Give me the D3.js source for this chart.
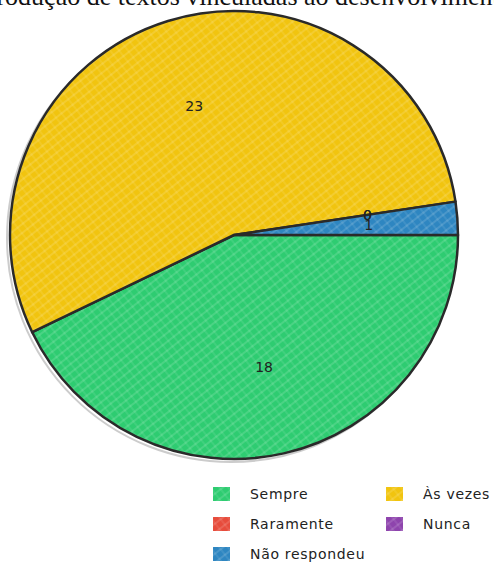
<!DOCTYPE html>
<html><head><meta charset="utf-8">
<script src="https://cdn.jsdelivr.net/npm/d3@7"></script>
<style>html,body{margin:0;padding:0;background:#fff;overflow:hidden}</style>
</head><body>
<svg id="c" width="494" height="563"></svg>
<script>
const title = "Produção de textos vinculadas ao desenvolvimento";
const categories = ["Sempre", "Às vezes", "Raramente", "Nunca", "Não respondeu"];
const values = [18, 23, 0, 0, 1];
const colors = ["#2ecc71", "#f1c40f", "#e74c3c", "#8e44ad", "#2e86c1"];

const svg = d3.select("#c");
const defs = svg.append("defs");
colors.forEach((c, i) => {
  const p = defs.append("pattern").attr("id", "h" + i).attr("patternUnits", "userSpaceOnUse")
    .attr("width", 7).attr("height", 7).attr("patternTransform", "rotate(-38)");
  p.append("rect").attr("width", 7).attr("height", 7).attr("fill", c);
  p.append("line").attr("x1", 0).attr("y1", 1).attr("x2", 7).attr("y2", 1)
    .attr("stroke", "#fff").attr("stroke-opacity", 0.22).attr("stroke-width", 1.2);
  p.append("line").attr("x1", 2).attr("y1", 0).attr("x2", 2).attr("y2", 7)
    .attr("stroke", "#fff").attr("stroke-opacity", 0.16).attr("stroke-width", 1);
});

svg.append("text").attr("x", -18).attr("y", 5)
  .attr("font-family", "Liberation Serif, serif").attr("font-size", 26).attr("fill", "#111")
  .text(title);

const cx = 234, cy = 235, R = 224;
const data = categories.map((c, i) => ({ name: c, value: values[i], color: colors[i], idx: i }));
const pie = d3.pie().sort(null).value(d => d.value).startAngle(Math.PI / 2).endAngle(Math.PI / 2 + 2 * Math.PI);
const arcs = pie(data);
const arc = d3.arc().innerRadius(0).outerRadius(R);
const labelArc = d3.arc().innerRadius(135).outerRadius(135);
const g = svg.append("g").attr("transform", `translate(${cx},${cy})`);

g.append("circle").attr("cx", -3).attr("cy", 3).attr("r", R).attr("fill", "none")
  .attr("stroke", "#999").attr("stroke-opacity", 0.5).attr("stroke-width", 2);

g.selectAll("path.s").data(arcs.filter(a => a.data.value > 0)).join("path").attr("class", "s")
  .attr("d", arc).attr("fill", d => `url(#h${d.data.idx})`)
  .attr("stroke", "#2a2a2a").attr("stroke-width", 2.5).attr("stroke-linejoin", "round");

g.selectAll("text.l").data(arcs).join("text").attr("class", "l")
  .attr("transform", d => `translate(${labelArc.centroid(d)})`)
  .attr("text-anchor", "middle").attr("dy", "0.35em")
  .attr("font-family", "DejaVu Sans, sans-serif").attr("font-size", 14).attr("fill", "#222")
  .text(d => d.data.value);

const lx = [213, 386], ly = [494, 524, 554];
const leg = svg.append("g").selectAll("g").data(data).join("g")
  .attr("transform", (d, i) => `translate(${lx[i % 2]},${ly[Math.floor(i / 2)]})`);
leg.append("rect").attr("x", 0).attr("y", -7).attr("width", 17).attr("height", 14)
  .attr("fill", d => `url(#h${d.idx})`);
leg.append("text").attr("x", 37).attr("dy", "0.35em")
  .attr("font-family", "DejaVu Sans, sans-serif").attr("font-size", 14).attr("fill", "#222")
  .attr("letter-spacing", 0.7)
  .text(d => d.name);
</script>
</body></html>
